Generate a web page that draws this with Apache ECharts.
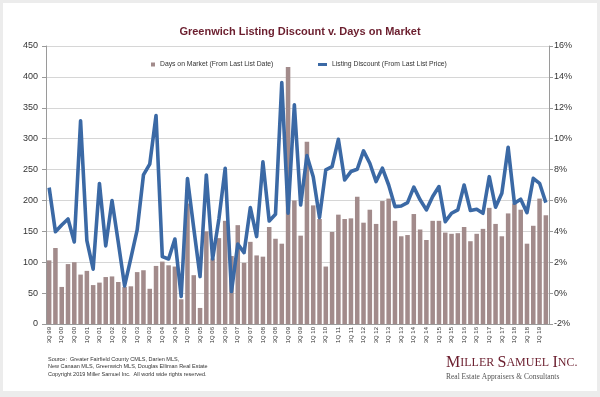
<!DOCTYPE html>
<html><head><meta charset="utf-8">
<script src="https://cdn.jsdelivr.net/npm/echarts@6/dist/echarts.min.js"></script>
<style>
html,body{margin:0;padding:0;background:#ececec;}
#panel{position:absolute;left:3px;top:3px;width:594px;height:388px;background:#fff;}
#chart{position:absolute;left:0;top:0;width:600px;height:397px;}
</style></head><body><div id="panel"></div><div id="chart"></div>
<script>
const categories = [
 '3Q 99','4Q 99',
 '1Q 00','2Q 00','3Q 00','4Q 00','1Q 01','2Q 01','3Q 01','4Q 01',
 '1Q 02','2Q 02','3Q 02','4Q 02','1Q 03','2Q 03','3Q 03','4Q 03',
 '1Q 04','2Q 04','3Q 04','4Q 04','1Q 05','2Q 05','3Q 05','4Q 05',
 '1Q 06','2Q 06','3Q 06','4Q 06','1Q 07','2Q 07','3Q 07','4Q 07',
 '1Q 08','2Q 08','3Q 08','4Q 08','1Q 09','2Q 09','3Q 09','4Q 09',
 '1Q 10','2Q 10','3Q 10','4Q 10','1Q 11','2Q 11','3Q 11','4Q 11',
 '1Q 12','2Q 12','3Q 12','4Q 12','1Q 13','2Q 13','3Q 13','4Q 13',
 '1Q 14','2Q 14','3Q 14','4Q 14','1Q 15','2Q 15','3Q 15','4Q 15',
 '1Q 16','2Q 16','3Q 16','4Q 16','1Q 17','2Q 17','3Q 17','4Q 17',
 '1Q 18','2Q 18','3Q 18','4Q 18','1Q 19','2Q 19'
];
const daysOnMarket = [
 103,123,
 60,97,100,80,86,63,67,76,
 77,68,60,61,84,87,57,94,
 101,95,93,40,195,79,26,150,
 106,139,167,110,160,99,133,111,
 109,157,138,130,416,200,143,295,
 192,170,93,149,177,170,171,206,
 164,185,162,199,203,167,142,144,
 178,153,136,167,167,148,146,147,
 157,134,146,154,188,162,142,179,
 195,185,130,159,203,176
];
const listingDiscount = [
 6.83,3.98,
 4.41,4.8,3.31,11.15,3.4,1.55,7.1,3.06,
 5.99,3.27,0.47,2.26,4.09,7.65,8.35,11.5,
 2.36,2.21,3.5,-0.22,7.42,4.2,1.07,7.65,
 2.21,4.8,8.08,0.1,3.18,2.62,5.54,3.66,
 8.5,4.67,5.1,13.63,5.17,12.19,5.71,8.9,
 7.54,4.89,7.98,8.19,9.96,7.33,7.87,8.02,
 9.21,8.41,7.22,8.09,7.0,5.6,5.64,5.86,
 6.86,6.04,5.39,6.26,6.9,4.63,5.17,5.39,
 7.0,5.35,5.43,5.17,7.54,5.56,6.47,9.44,
 5.82,6.08,5.21,7.43,7.11,5.86
];
const seriesNames = ['Days on Market (From Last List Date)', 'Listing Discount (From Last List Price)'];
const footerLines = [
 'Source:  Greater Fairfield County CMLS, Darien MLS,',
 'New Canaan MLS, Greenwich MLS, Douglas Elliman Real Estate',
 'Copyright 2019 Miller Samuel Inc.  All world wide rights reserved.'
];

const SANS = '"Liberation Sans", Arial, sans-serif';
const SERIF = '"Liberation Serif", "Times New Roman", serif';
const chart = echarts.init(document.getElementById('chart'), null, {renderer:'canvas'});
chart.setOption({
  backgroundColor: 'transparent',
  animation: false,
  title: {
    text: 'Greenwich Listing Discount v. Days on Market',
    left: 'center', top: 21,
    textStyle: {fontSize: 11, fontWeight: 'bold', color: '#6b1e2e', fontFamily: SANS}
  },
  legend: [
    {data: [seriesNames[0]], left: 146, top: 56, icon: 'rect', itemWidth: 4, itemHeight: 4,
     textStyle: {fontSize: 6.8, color: '#333', fontFamily: SANS}, selectedMode: false},
    {data: [seriesNames[1]], left: 313, top: 56, icon: 'rect', itemWidth: 9, itemHeight: 3,
     textStyle: {fontSize: 6.8, color: '#333', fontFamily: SANS}, selectedMode: false}
  ],
  grid: {left: 46, right: 51, top: 46, bottom: 73, containLabel: false},
  xAxis: {
    type: 'category', data: categories, boundaryGap: true,
    axisLine: {lineStyle: {color: '#9a9a9a', width: 1}},
    axisTick: {show: false},
    axisLabel: {interval: 1, rotate: 90, fontSize: 6, margin: 3, color: '#333', fontFamily: SANS}
  },
  yAxis: [
    {type: 'value', min: 0, max: 450, interval: 50,
     axisLine: {show: true, lineStyle: {color: '#9a9a9a'}},
     axisTick: {show: true, length: 4, lineStyle: {color: '#9a9a9a'}},
     axisLabel: {fontSize: 9, color: '#333', margin: 8, fontFamily: SANS},
     splitLine: {lineStyle: {color: '#d6d6d6', width: 1}}},
    {type: 'value', min: -2, max: 16, interval: 2, position: 'right',
     axisLine: {show: true, lineStyle: {color: '#9a9a9a'}},
     axisTick: {show: true, length: 4, lineStyle: {color: '#9a9a9a'}},
     axisLabel: {fontSize: 9, color: '#333', margin: 5, formatter: '{value}%', fontFamily: SANS},
     splitLine: {show: false}}
  ],
  series: [
    {name: seriesNames[0], type: 'bar', yAxisIndex: 0, data: daysOnMarket,
     barCategoryGap: '28%', itemStyle: {color: '#a28b8b'}},
    {name: seriesNames[1], type: 'line', yAxisIndex: 1, data: listingDiscount,
     symbol: 'none', z: 3, lineStyle: {width: 3.6, color: '#3b69a5', join: 'round'}, itemStyle: {color: '#3b69a5'}}
  ],
  graphic: [
    {type: 'text', left: 48, top: 356, style: {text: footerLines[0] + '\n' + footerLines[1], font: '5.5px ' + SANS, fill: '#333', lineHeight: 7}},
    {type: 'text', left: 48, top: 371, style: {text: footerLines[2], font: '5.5px ' + SANS, fill: '#333'}},
    {type: 'text', left: 446, top: 355, style: {
      text: '{a|M}{b|ILLER} {a|S}{b|AMUEL} {a|I}{b|NC.}',
      rich: {a: {fontSize: 16, fontFamily: SERIF, fill: '#6b1e2e'}, b: {fontSize: 12, fontFamily: SERIF, fill: '#6b1e2e'}}
    }},
    {type: 'text', left: 446, top: 373, style: {text: 'Real Estate Appraisers & Consultants', font: '7.5px ' + SERIF, fill: '#555'}}
  ]
});
</script></body></html>
